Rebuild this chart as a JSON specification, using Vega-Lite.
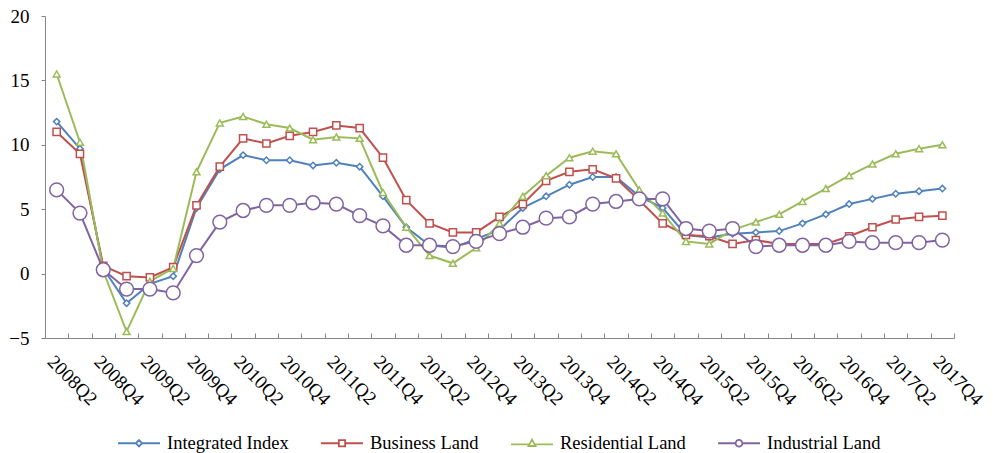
{
  "$schema": "https://vega.github.io/schema/vega-lite/v6.json",
  "autosize": {"type": "none"},
  "padding": {"left": 45, "top": 16, "right": 39, "bottom": 115},
  "width": 909,
  "height": 322,
  "background": "white",
  "config": {
    "view": {"stroke": null},
    "font": "serif",
    "axis": {"labelFont": "serif", "labelColor": "black", "domainColor": "#868686", "tickColor": "#868686", "grid": false, "title": null},
    "legend": {"labelFont": "serif", "labelColor": "black"}
  },
  "datasets": {
    "d": [
      {"q":"2008Q2","Integrated Index":11.8,"Business Land":11.0,"Residential Land":15.5,"Industrial Land":6.5},
      {"q":"2008Q3","Integrated Index":9.7,"Business Land":9.3,"Residential Land":10.2,"Industrial Land":4.7},
      {"q":"2008Q4","Integrated Index":0.4,"Business Land":0.6,"Residential Land":0.2,"Industrial Land":0.3},
      {"q":"2009Q1","Integrated Index":-2.3,"Business Land":-0.2,"Residential Land":-4.5,"Industrial Land":-1.2},
      {"q":"2009Q2","Integrated Index":-0.8,"Business Land":-0.3,"Residential Land":-0.6,"Industrial Land":-1.2},
      {"q":"2009Q3","Integrated Index":-0.2,"Business Land":0.5,"Residential Land":0.4,"Industrial Land":-1.5},
      {"q":"2009Q4","Integrated Index":5.1,"Business Land":5.3,"Residential Land":7.9,"Industrial Land":1.4},
      {"q":"2010Q1","Integrated Index":8.1,"Business Land":8.3,"Residential Land":11.7,"Industrial Land":4.0},
      {"q":"2010Q2","Integrated Index":9.2,"Business Land":10.5,"Residential Land":12.2,"Industrial Land":4.9},
      {"q":"2010Q3","Integrated Index":8.8,"Business Land":10.1,"Residential Land":11.6,"Industrial Land":5.3},
      {"q":"2010Q4","Integrated Index":8.8,"Business Land":10.7,"Residential Land":11.3,"Industrial Land":5.3},
      {"q":"2011Q1","Integrated Index":8.4,"Business Land":11.0,"Residential Land":10.4,"Industrial Land":5.5},
      {"q":"2011Q2","Integrated Index":8.6,"Business Land":11.5,"Residential Land":10.6,"Industrial Land":5.4},
      {"q":"2011Q3","Integrated Index":8.3,"Business Land":11.3,"Residential Land":10.5,"Industrial Land":4.5},
      {"q":"2011Q4","Integrated Index":6.0,"Business Land":9.0,"Residential Land":6.3,"Industrial Land":3.7},
      {"q":"2012Q1","Integrated Index":3.6,"Business Land":5.7,"Residential Land":3.6,"Industrial Land":2.2},
      {"q":"2012Q2","Integrated Index":2.2,"Business Land":3.9,"Residential Land":1.4,"Industrial Land":2.2},
      {"q":"2012Q3","Integrated Index":2.0,"Business Land":3.2,"Residential Land":0.8,"Industrial Land":2.1},
      {"q":"2012Q4","Integrated Index":2.7,"Business Land":3.2,"Residential Land":2.0,"Industrial Land":2.5},
      {"q":"2013Q1","Integrated Index":3.4,"Business Land":4.4,"Residential Land":3.9,"Industrial Land":3.1},
      {"q":"2013Q2","Integrated Index":5.1,"Business Land":5.4,"Residential Land":6.0,"Industrial Land":3.6},
      {"q":"2013Q3","Integrated Index":6.0,"Business Land":7.2,"Residential Land":7.6,"Industrial Land":4.3},
      {"q":"2013Q4","Integrated Index":6.9,"Business Land":7.9,"Residential Land":9.0,"Industrial Land":4.4},
      {"q":"2014Q1","Integrated Index":7.5,"Business Land":8.1,"Residential Land":9.5,"Industrial Land":5.4},
      {"q":"2014Q2","Integrated Index":7.5,"Business Land":7.4,"Residential Land":9.3,"Industrial Land":5.6},
      {"q":"2014Q3","Integrated Index":6.0,"Business Land":5.7,"Residential Land":6.5,"Industrial Land":5.8},
      {"q":"2014Q4","Integrated Index":5.1,"Business Land":3.9,"Residential Land":4.7,"Industrial Land":5.8},
      {"q":"2015Q1","Integrated Index":3.0,"Business Land":3.0,"Residential Land":2.5,"Industrial Land":3.5},
      {"q":"2015Q2","Integrated Index":2.8,"Business Land":2.9,"Residential Land":2.3,"Industrial Land":3.3},
      {"q":"2015Q3","Integrated Index":3.1,"Business Land":2.3,"Residential Land":3.4,"Industrial Land":3.5},
      {"q":"2015Q4","Integrated Index":3.2,"Business Land":2.6,"Residential Land":4.0,"Industrial Land":2.1},
      {"q":"2016Q1","Integrated Index":3.3,"Business Land":2.3,"Residential Land":4.6,"Industrial Land":2.2},
      {"q":"2016Q2","Integrated Index":3.9,"Business Land":2.3,"Residential Land":5.6,"Industrial Land":2.2},
      {"q":"2016Q3","Integrated Index":4.6,"Business Land":2.3,"Residential Land":6.6,"Industrial Land":2.2},
      {"q":"2016Q4","Integrated Index":5.4,"Business Land":2.9,"Residential Land":7.6,"Industrial Land":2.5},
      {"q":"2017Q1","Integrated Index":5.8,"Business Land":3.6,"Residential Land":8.5,"Industrial Land":2.4},
      {"q":"2017Q2","Integrated Index":6.2,"Business Land":4.2,"Residential Land":9.3,"Industrial Land":2.4},
      {"q":"2017Q3","Integrated Index":6.4,"Business Land":4.4,"Residential Land":9.7,"Industrial Land":2.4},
      {"q":"2017Q4","Integrated Index":6.6,"Business Land":4.5,"Residential Land":10.0,"Industrial Land":2.6}
    ]
  },
  "data": {"name": "d"},
  "transform": [
    {"fold": ["Integrated Index", "Business Land", "Residential Land", "Industrial Land"], "as": ["series", "v"]},
    {"calculate": "indexof(['Integrated Index','Business Land','Residential Land','Industrial Land'], datum.series)", "as": "ord"}
  ],
  "encoding": {
    "x": {
      "field": "q", "type": "ordinal", "bandPosition": 0.5,
      "scale": {"type": "band", "paddingInner": 0, "paddingOuter": 0},
      "axis": {
        "labelFont": "serif",
        "labelAngle": 45, "labelAlign": "left", "labelBaseline": "top",
        "labelFontSize": 19, "labelPadding": 19, "tickSize": -5, "tickBand": "extent",
        "labelOverlap": false,
        "labelExpr": "(substring(datum.value,4)=='Q2' || substring(datum.value,4)=='Q4') ? datum.value : ''"
      }
    },
    "y": {
      "field": "v", "type": "quantitative",
      "scale": {"domain": [-5, 20], "nice": false},
      "axis": {"labelFont": "serif", "values": [-5, 0, 5, 10, 15, 20], "labelFontSize": 19, "tickSize": 4, "labelPadding": 12}
    }
  },
  "layer": [
    {
      "mark": {"type": "line", "strokeWidth": 2},
      "encoding": {
        "color": {
          "field": "series", "type": "nominal",
          "scale": {"domain": ["Integrated Index", "Business Land", "Residential Land", "Industrial Land"], "range": ["#4F81BD", "#C0504D", "#9BBB59", "#8064A2"]},
          "legend": {
            "title": null, "orient": "none", "legendX": 72, "legendY": 405, "direction": "horizontal",
            "labelFont": "serif",
            "labelFontSize": 18.5, "symbolSize": 1764, "symbolStrokeWidth": 1.8,
            "labelOffset": 6, "columnPadding": 28,
            "encode": {
              "symbols": {
                "update": {
                  "shape": {"signal": "datum.value=='Integrated Index' ? 'M-1,0H-0.15M0.15,0H1M0,-0.15L0.15,0L0,0.15L-0.15,0Z' : datum.value=='Business Land' ? 'M-1,0H-0.15M0.15,0H1M-0.15,-0.15H0.15V0.15H-0.15Z' : datum.value=='Residential Land' ? 'M-1,0.05H-0.15M0.15,0.05H1M0,-0.17L0.17,0.13H-0.17Z' : 'M-1,0H-0.16M0.16,0H1M-0.16,0A0.16,0.16 0 1,0 0.16,0A0.16,0.16 0 1,0 -0.16,0Z'"},
                  "size": {"value": 1764},
                  "fill": {"value": "white"},
                  "stroke": {"signal": "scale('color', datum.value)"},
                  "strokeWidth": {"value": 1.8},
                  "opacity": {"value": 1}
                }
              }
            }
          }
        },
        "detail": {"field": "series"},
        "order": {"field": "ord"}
      }
    },
    {
      "transform": [{"filter": "datum.series == 'Integrated Index'"}],
      "mark": {"type": "point", "shape": "diamond", "size": 40, "filled": true, "fill": "white", "stroke": "#4F81BD", "strokeWidth": 1.5, "opacity": 1},
      "encoding": {}
    },
    {
      "transform": [{"filter": "datum.series == 'Business Land'"}],
      "mark": {"type": "point", "shape": "square", "size": 52, "filled": true, "fill": "white", "stroke": "#C0504D", "strokeWidth": 1.5, "opacity": 1},
      "encoding": {}
    },
    {
      "transform": [{"filter": "datum.series == 'Residential Land'"}],
      "mark": {"type": "point", "shape": "triangle-up", "size": 48, "filled": true, "fill": "white", "stroke": "#9BBB59", "strokeWidth": 1.5, "opacity": 1},
      "encoding": {}
    },
    {
      "transform": [{"filter": "datum.series == 'Industrial Land'"}],
      "mark": {"type": "circle", "fill": "white", "stroke": "#8064A2", "strokeWidth": 1.5, "opacity": 1, "size": 190},
      "encoding": {}
    }
  ]
}
